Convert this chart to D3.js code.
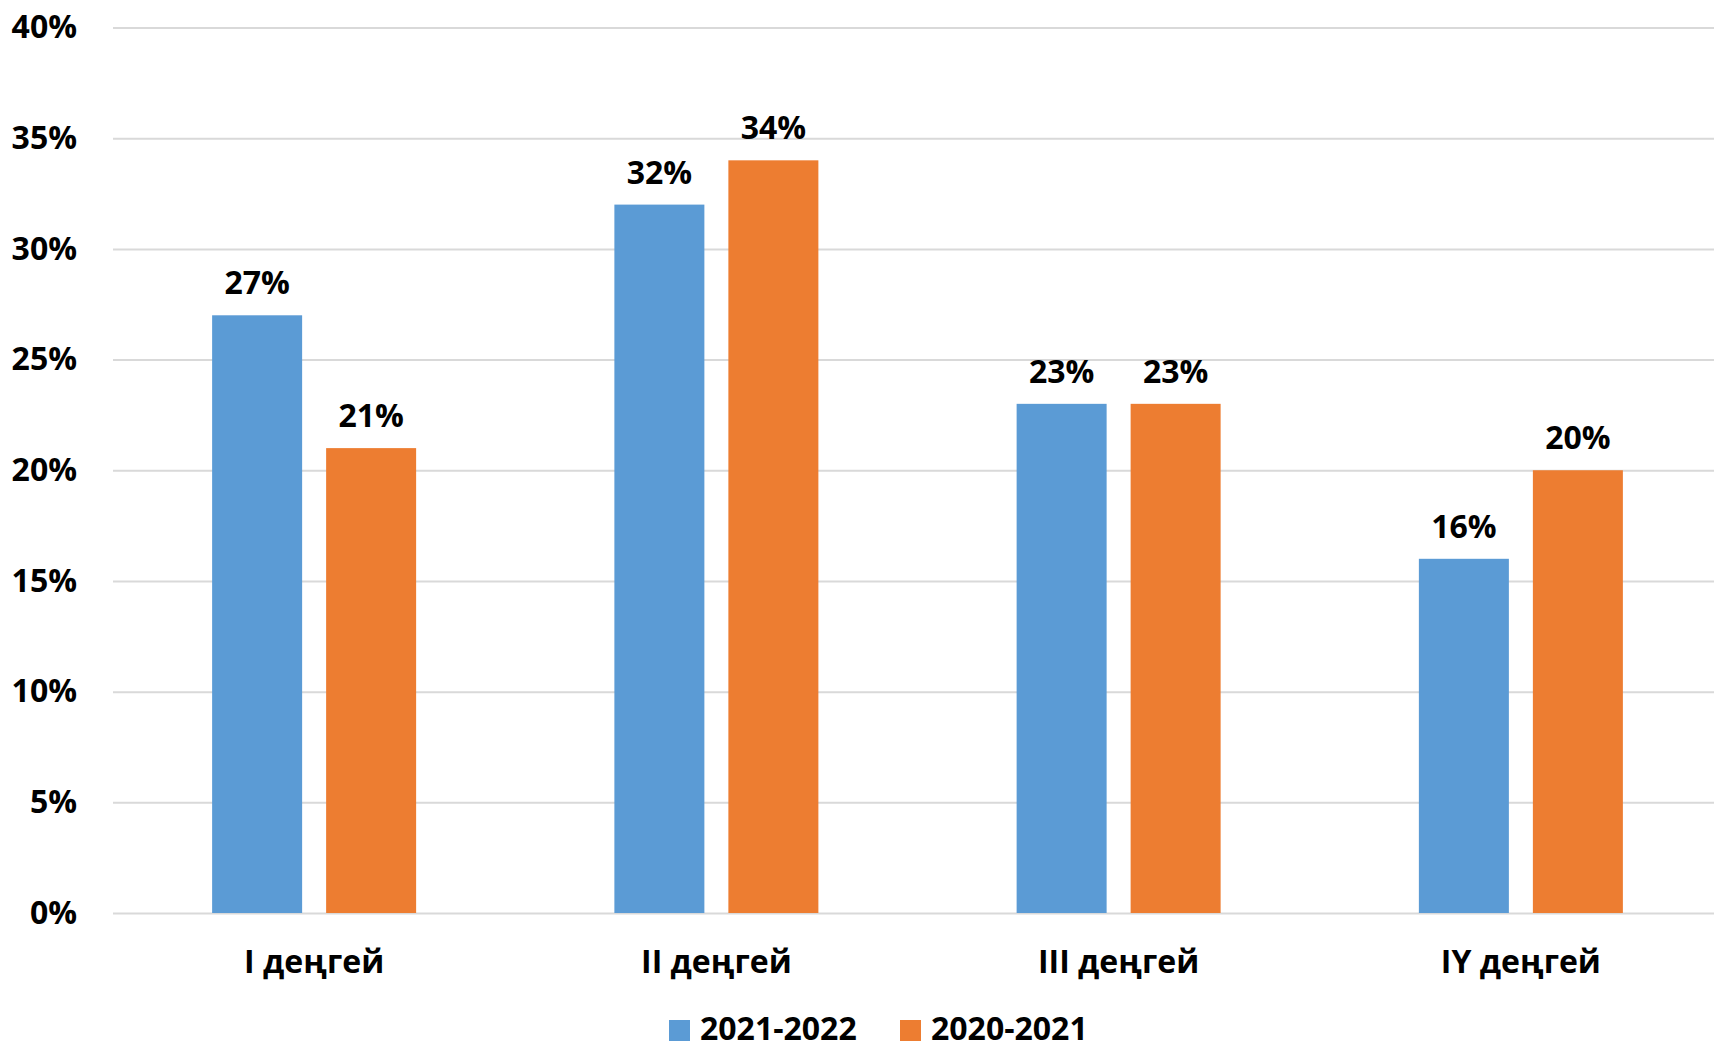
<!DOCTYPE html>
<html lang="kk">
<head>
  <meta charset="UTF-8" />
  <title>Деңгейлер</title>
  <script src="https://d3js.org/d3.v7.min.js"></script>
  <style>
    body { margin: 0; background: white; }
    text { font-family: "Open Sans", "Noto Sans", sans-serif; font-weight: 700; fill: black; }
  </style>
</head>
<body>
<div id="chart"></div>
<script>
// data
var categories = ["I деңгей", "II деңгей", "III деңгей", "IY деңгей"];
var series = ["2021-2022", "2020-2021"];
var values2122 = [27, 32, 23, 16];
var values2021 = [21, 34, 23, 20];
var yTicks = [0, 5, 10, 15, 20, 25, 30, 35, 40];

var colors = ["#5B9BD5", "#ED7D31"];

var W = 1714, H = 1044;
var plotLeft = 113, plotRight = 1722, plotTop = 27.5, plotBottom = 913;

var svg = d3.select("#chart").append("svg")
  .attr("width", W)
  .attr("height", H);

var y = d3.scaleLinear().domain([0, 40]).range([plotBottom, plotTop]);
var x0 = d3.scaleBand().domain(categories).range([plotLeft, plotRight]);
var groupW = 204;
var x1 = d3.scaleBand().domain(series).range([0, groupW]).paddingInner(0.2105);

// y axis + gridlines
var yAxis = svg.append("g")
  .attr("transform", "translate(" + plotLeft + ",0)")
  .call(d3.axisLeft(y).tickValues(yTicks)
    .tickSize(-(W - plotLeft))
    .tickPadding(36)
    .tickFormat(function(d) { return d + "%"; }));
yAxis.select(".domain").remove();
yAxis.selectAll(".tick line").attr("stroke", "#d9d9d9").attr("stroke-width", 2);
yAxis.selectAll(".tick text")
  .style("font-size", "32px")
  .attr("fill", "black");

// x axis labels
var xAxis = svg.append("g")
  .attr("transform", "translate(0," + plotBottom + ")")
  .call(d3.axisBottom(x0).tickSize(0));
xAxis.select(".domain").remove();
xAxis.selectAll(".tick text")
  .attr("y", 60)
  .attr("dy", 0)
  .style("font-size", "32px")
  .attr("fill", "black");

// bars
var rows = categories.map(function(c, i) {
  return { cat: c, vals: [values2122[i], values2021[i]] };
});

var groups = svg.append("g").selectAll("g")
  .data(rows)
  .enter().append("g")
  .attr("transform", function(d) {
    return "translate(" + (x0(d.cat) + x0.bandwidth() / 2 - groupW / 2) + ",0)";
  });

groups.selectAll("rect")
  .data(function(d) { return d.vals.map(function(v, j) { return { s: series[j], v: v, j: j }; }); })
  .enter().append("rect")
  .attr("x", function(d) { return x1(d.s); })
  .attr("y", function(d) { return y(d.v); })
  .attr("width", x1.bandwidth())
  .attr("height", function(d) { return y(0) - y(d.v); })
  .attr("fill", function(d) { return colors[d.j]; });

groups.selectAll("text.val")
  .data(function(d) { return d.vals.map(function(v, j) { return { s: series[j], v: v }; }); })
  .enter().append("text")
  .attr("class", "val")
  .attr("x", function(d) { return x1(d.s) + x1.bandwidth() / 2; })
  .attr("y", function(d) { return y(d.v) - 21; })
  .attr("text-anchor", "middle")
  .style("font-size", "32px")
  .text(function(d) { return d.v + "%"; });

// legend
var legend = svg.append("g");
var legX = [669, 900];
series.forEach(function(s, i) {
  legend.append("rect")
    .attr("x", legX[i])
    .attr("y", 1020)
    .attr("width", 21)
    .attr("height", 21)
    .attr("fill", colors[i]);
  legend.append("text")
    .attr("x", legX[i] + 31)
    .attr("y", 1040)
    .style("font-size", "32px")
    .text(s);
});
</script>
</body>
</html>
